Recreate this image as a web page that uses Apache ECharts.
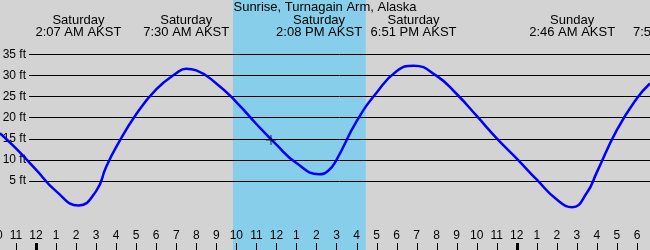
<!DOCTYPE html>
<html>
<head>
<meta charset="utf-8">
<script src="https://cdn.jsdelivr.net/npm/echarts@6/dist/echarts.min.js"></script>
<style>html,body{margin:0;padding:0;background:#d3d3d3;}#c{width:650px;height:250px;}</style>
</head>
<body>
<div id="c"></div>
<script>
// Hours measured from Saturday 00:00 AKST
const tideHours = [-1.8,-1,0,1,2.117,3,3.5,4,5,6,7,7.5,8,9,10,11,12,13,14.133,14.6,15,16,17,18,18.85,20,21,22,23,24,25,26,26.767,27.5,28,29,30,30.65];
const tideFeet  = [16.3,12.7,7.7,2.6,-0.8,2.6,8.3,13.0,20.8,26.7,30.5,31.6,31.2,28.1,23.7,18.5,13.6,9.25,6.6,7.5,10.0,19.1,25.9,31.0,32.3,29.9,25.6,20.4,15.1,10.3,5.3,0.6,-1.2,2.2,7.1,17.1,24.6,28.1];
const hourTicks = [-2,-1,0,1,2,3,4,5,6,7,8,9,10,11,12,13,14,15,16,17,18,19,20,21,22,23,24,25,26,27,28,29,30,31];
const midnightTicks = [0,24];
const eventHours = [2.117,7.5,14.133,18.85,26.767,31.95];
const eventDays  = ['Saturday','Saturday','Saturday','Saturday','Sunday','Sunday'];
const eventTimes = ['2:07 AM AKST','7:30 AM AKST','2:08 PM AKST','6:51 PM AKST','2:46 AM AKST','7:57 AM AKST'];
const sunriseHour = 9.835, sunsetHour = 16.46;
const feetTicks = [5,10,15,20,25,30,35];
const nowPoint = [11.73, 14.7];
const titleText = 'Sunrise, Turnagain Arm, Alaska';

const FONT = 'Liberation Sans';
const X_MIN = -2, X_MAX = 31;
const TICK_LEN = 7;
const chart = echarts.init(document.getElementById('c'), null, {renderer:'canvas'});
const hourLabel = v => { let h = ((Math.round(v) % 12) + 12) % 12; return String(h === 0 ? 12 : h); };
const G = { containLabel: false, outerBoundsMode: 'none' };

const option = {
  backgroundColor: '#d3d3d3',
  animation: false,
  title: { text: titleText, left: 'center', top: 1, padding: 0,
    textStyle: { fontFamily: FONT, fontSize: 13, fontWeight: 'normal', color: '#000' } },
  grid: [
    Object.assign({ left: -4.06, right: -7, top: 0, bottom: 0 }, G),
    Object.assign({ left: 29, right: 0, top: 54.3, height: 126.7 }, G),
    Object.assign({ left: -4.06, right: -47, top: 40, height: 10 }, G)
  ],
  xAxis: [
    { gridIndex: 0, type: 'value', min: X_MIN, max: X_MAX, position: 'bottom', z: 10,
      axisLine: { show: false }, splitLine: { show: false }, axisTick: { show: false },
      axisLabel: { show: true, inside: true, margin: 8, customValues: hourTicks, formatter: hourLabel,
        fontFamily: FONT, fontSize: 12, color: '#000', showMinLabel: true, showMaxLabel: true, hideOverlap: false } },
    { gridIndex: 1, type: 'value', min: X_MIN, max: X_MAX, show: false },
    { gridIndex: 2, type: 'value', min: X_MIN, max: 33, position: 'top', z: 10,
      axisLine: { show: false }, axisTick: { show: false }, splitLine: { show: false },
      axisLabel: { show: true, margin: 2, customValues: eventHours, hideOverlap: false,
        formatter: v => { const i = eventHours.indexOf(v); return i < 0 ? '' : eventDays[i] + '\n' + eventTimes[i]; },
        fontFamily: FONT, fontSize: 13, lineHeight: 12, color: '#000', align: 'center' } }
  ],
  yAxis: [
    { gridIndex: 0, type: 'value', min: -11.34, max: 47.86, show: false },
    { gridIndex: 1, type: 'value', min: 5, max: 35, interval: 5, z: 10,
      axisLine: { show: false }, axisTick: { show: false },
      splitLine: { show: true, lineStyle: { color: '#000', width: 1 } },
      axisLabel: { show: true, margin: 3, formatter: '{value} ft', fontFamily: FONT, fontSize: 12, color: '#000' } },
    { gridIndex: 2, type: 'value', min: 0, max: 1, show: false }
  ],
  series: [
    { type: 'line', xAxisIndex: 0, yAxisIndex: 0, data: [], z: 1, silent: true,
      markArea: { silent: true, itemStyle: { color: '#87ceeb', opacity: 1 },
        data: [[{ xAxis: sunriseHour }, { xAxis: sunsetHour }]] } },
    { type: 'custom', xAxisIndex: 0, yAxisIndex: 0, z: 11, silent: true,
      data: hourTicks.map(h => [h, 0]),
      renderItem: (params, api) => {
        const h = api.value(0);
        const bold = midnightTicks.indexOf(h) >= 0;
        const x = Math.round(api.coord([h, 0])[0]) + 0.5;
        const bottom = params.coordSys.y + params.coordSys.height;
        return { type: 'line', shape: { x1: x, y1: bottom - TICK_LEN, x2: x, y2: bottom },
          style: { stroke: '#000', lineWidth: bold ? 3 : 1 } };
      } },
    { type: 'line', xAxisIndex: 0, yAxisIndex: 0, z: 20, smooth: 0.5, showSymbol: false,
      lineStyle: { color: '#0000ff', width: 2.5 },
      data: tideHours.map((h, i) => [h, tideFeet[i]]) },
    { type: 'scatter', xAxisIndex: 0, yAxisIndex: 0, z: 21, silent: true,
      symbol: 'path://M0,4.5h10v1h-10zM4.5,0h1v10h-1z', symbolSize: 10,
      itemStyle: { color: '#000' }, data: [nowPoint] }
  ]
};
chart.setOption(option);
</script>
</body>
</html>
